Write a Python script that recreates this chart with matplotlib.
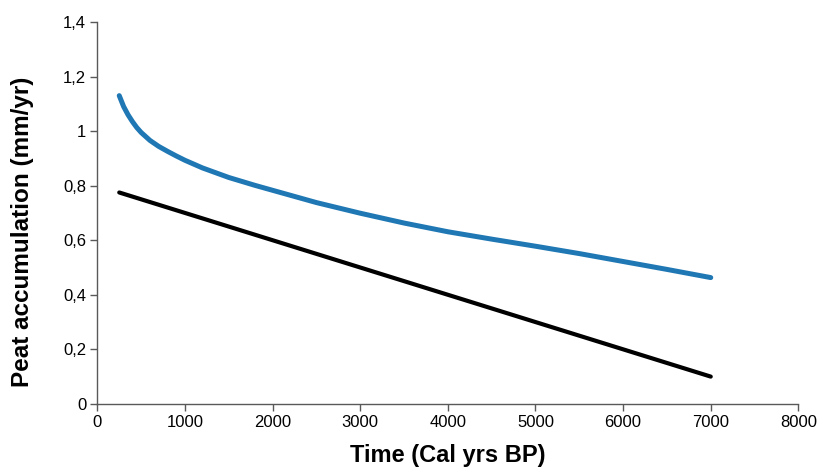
import matplotlib
matplotlib.use("Agg")
import matplotlib.pyplot as plt
from matplotlib.ticker import FuncFormatter, MultipleLocator

# data
time_blue = [250, 300, 350, 400, 450, 500, 600, 700, 800, 900, 1000, 1200, 1500, 1800,
             2000, 2500, 3000, 3500, 4000, 4500, 5000, 5500, 6000, 6500, 7000]
rate_blue = [1.13, 1.09, 1.06, 1.035, 1.013, 0.995, 0.966, 0.944, 0.926, 0.909, 0.893,
             0.865, 0.83, 0.801, 0.783, 0.738, 0.699, 0.663, 0.631, 0.604, 0.578,
             0.551, 0.522, 0.493, 0.463]

time_black = [250, 7000]
rate_black = [0.775, 0.10]

plt.rcParams["font.family"] = ["Liberation Sans", "DejaVu Sans"]

fig = plt.figure(figsize=(8.18, 4.68), dpi=100)
ax = fig.add_axes([0.119, 0.137, 0.857, 0.816])

ax.plot(time_blue, rate_blue, color="#1f77b4", linewidth=3.6,
        solid_capstyle="round", solid_joinstyle="round")
ax.plot(time_black, rate_black, color="black", linewidth=3.0,
        solid_capstyle="round")

ax.set_xlim(0, 8000)
ax.set_ylim(0, 1.4)
ax.xaxis.set_major_locator(MultipleLocator(1000))
ax.yaxis.set_major_locator(MultipleLocator(0.2))
ax.yaxis.set_major_formatter(FuncFormatter(lambda v, p: f"{v:.1f}".rstrip("0").rstrip(".").replace(".", ",")))

for s in ["top", "right"]:
    ax.spines[s].set_visible(False)
for s in ["left", "bottom"]:
    ax.spines[s].set_color("#595959")
    ax.spines[s].set_linewidth(1.0)

ax.tick_params(axis="both", direction="out", length=5, width=1.0,
               color="#595959", labelsize=12, labelcolor="black", pad=3)

ax.set_xlabel("Time (Cal yrs BP)", fontsize=17, fontweight="bold")
ax.set_ylabel("Peat accumulation (mm/yr)", fontsize=17.5, fontweight="bold")
ax.xaxis.set_label_coords(0.5, -0.104)
ax.yaxis.set_label_coords(-0.09, 0.45)

fig.savefig("out.png", dpi=100)
